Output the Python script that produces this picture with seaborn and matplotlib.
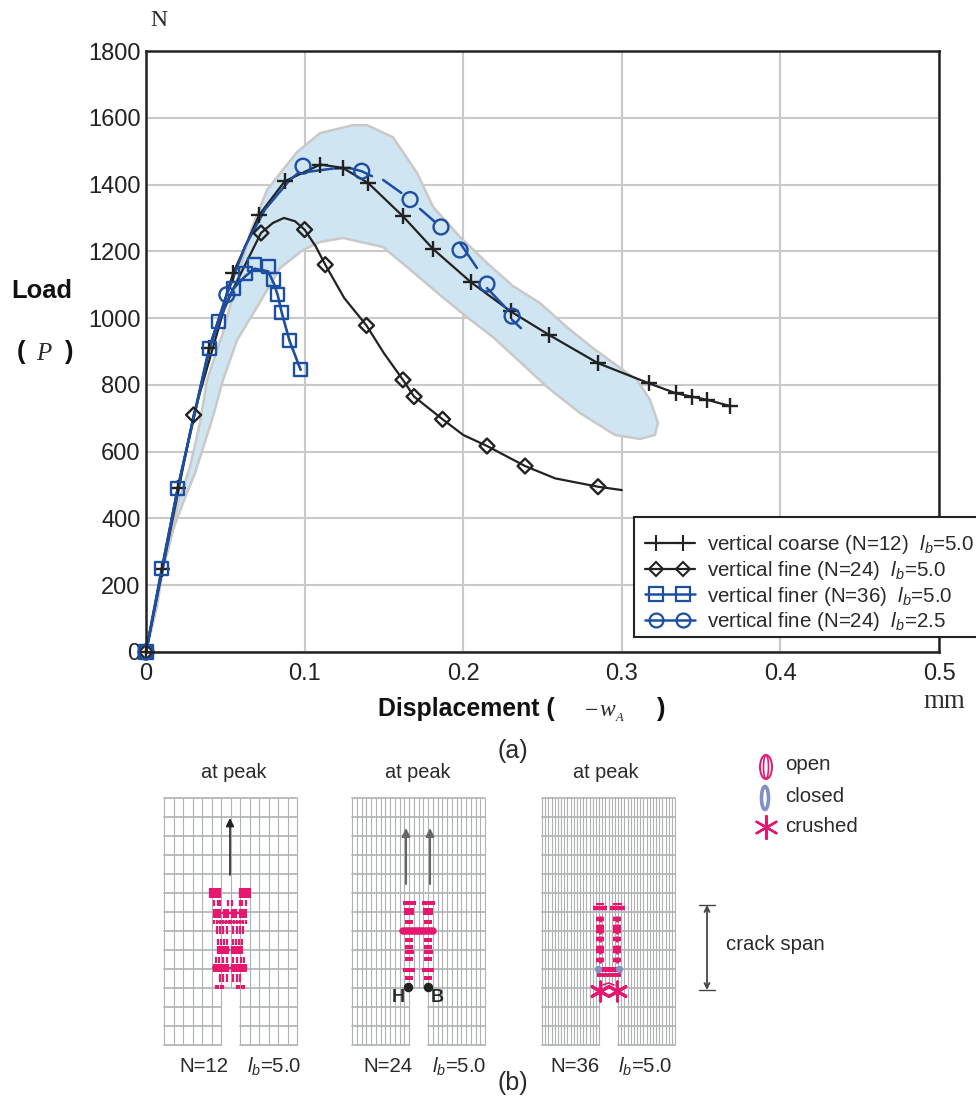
import numpy as np
import pandas as pd
import matplotlib
matplotlib.use("Agg")
import matplotlib.pyplot as plt
import seaborn as sns
from matplotlib.lines import Line2D
from matplotlib.legend_handler import HandlerLine2DCompound
from matplotlib.patches import Ellipse, Rectangle

# ---------- data ----------
coarse_x = [0, .01, .02, .04, .055, .0715, .0875, .11, .124, .14, .162, .181, .205, .23, .254, .285, .317, .334, .344, .354, .368]
coarse_y = [0, 250, 490, 910, 1135, 1310, 1410, 1460, 1450, 1405, 1305, 1207, 1107, 1020, 950, 865, 805, 775, 765, 755, 737]

fine_line_x = [0, .03, .05, .0725, .08, .087, .094, .1, .107, .113, .125, .139, .15, .162, .169, .187, .2, .215, .239, .258, .285, .3]
fine_line_y = [0, 710, 1040, 1255, 1285, 1300, 1290, 1265, 1215, 1160, 1060, 978, 895, 815, 765, 697, 650, 617, 557, 520, 495, 485]
fine_x = [0, .03, .0725, .1, .113, .139, .162, .169, .187, .215, .239, .285]
fine_y = [0, 710, 1255, 1265, 1160, 978, 815, 765, 697, 617, 557, 495]

finer_x = [0, .01, .02, .04, .046, .055, .0625, .0685, .077, .0805, .083, .0855, .0905, .0975]
finer_y = [0, 250, 490, 908, 990, 1088, 1135, 1162, 1155, 1115, 1070, 1018, 932, 845]
finer_line_y = [0, 250, 490, 908, 990, 1088, 1125, 1148, 1140, 1105, 1070, 1018, 932, 845]

short_x = [0, .051, .099, .136, .1665, .186, .198, .215, .2308]
short_y = [0, 1070, 1455, 1440, 1355, 1273, 1204, 1102, 1006]
short_segments = [
    ([0, .01, .02, .04, .051, .0625, .075, .09, .096], [0, 240, 490, 915, 1070, 1215, 1325, 1410, 1435]),
    ([.102, .118, .128, .136, .1425], [1438, 1448, 1450, 1440, 1425]),
    ([.1495, .161], [1414, 1375]),
    ([.1728, .1822], [1327, 1288]),
    ([.198, .2087], [1225, 1150]),
    ([.215, .2264], [1090, 1033]),
    ([.2308, .2364], [995, 970]),
]

band_x = [0, .0088, .0151, .0202, .0277, .034, .0385, .048, .0656, .0763, .0952, .1097, .1305, .1393, .1557, .1709,
          .181, .198, .215, .2314, .2484, .2654, .2818, .2989, .3096, .3178, .3228, .3209, .3115, .2957, .2736, .2528,
          .2358, .2188, .2024, .1854, .1646, .1494, .1242, .1097, .099, .0845, .07, .0574, .0486, .0416, .0309, .0233,
          .017, .012, .0069, 0]
band_y = [0, 216, 326, 446, 554, 686, 815, 949, 1255, 1384, 1497, 1554, 1578, 1578, 1542, 1435,
          1333, 1243, 1165, 1096, 1045, 973, 910, 851, 815, 755, 686, 650, 638, 650, 716, 794,
          869, 943, 1003, 1069, 1153, 1213, 1240, 1228, 1204, 1150, 1033, 934, 815, 695, 536, 446,
          365, 285, 135, 0]

legend_labels = ["vertical coarse (N=12)  $l_b$=5.0", "vertical fine (N=24)  $l_b$=5.0",
                 "vertical finer (N=36)  $l_b$=5.0", "vertical fine (N=24)  $l_b$=2.5"]
x_ticks = [0, .1, .2, .3, .4, .5]
x_tick_labels = ["0", "0.1", "0.2", "0.3", "0.4", "0.5"]
y_ticks = list(range(0, 1801, 200))

# schematic meshes: left, columns, notch columns (start, end)
mesh_left = [164, 352, 542]
mesh_cols = [14, 28, 42]
mesh_notch = [(6, 8), (12, 16), (18, 24)]
mesh_titles = ["N=12", "N=24", "N=36"]
mesh_title_x = [204, 387.5, 574.5]
mesh_lb_x = [274, 459, 645]
mesh_peak_x = [234, 418, 606]

# crack marks, coarse mesh: row y, tick length in pixels, offsets from the mesh centre
m1_rows = [893, 903, 913, 922, 930, 942, 950, 960, 968, 978, 987]
m1_lens = [10, 6, 9, 4, 8, 6, 8, 6, 8, 8, 5]
m1_offs = [[10, 12, 14, 16, 18, 20], [2, 10, 12, 16], [2, 4, 6, 10, 12, 14, 16], [1, 4, 7, 10, 13, 16], [3, 7, 10, 13],
           [3, 6, 9, 12], [2, 4, 6, 8, 10, 12], [3, 7, 11, 14], [2, 4, 6, 8, 10, 12, 14, 16], [3, 7, 10], [7, 9, 12, 14]]
# N=24: row y and dash length in pixels
m2_rows = [903, 910, 913, 922, 940, 947, 952, 959, 970, 978, 985]
m2_lens = [13, 10, 10, 8, 8, 8, 9, 8, 12, 8, 5]
m3_rows = [919, 927, 931, 939, 948, 951, 960]

PINK = "#e6176f"
BLACK = "#222222"
BLUE = "#1c4ea1"
GREY = "#c9c9c9"
MESH = "#aeb2b2"

sns.set_theme(style="white")
plt.rcParams["font.family"] = ["Liberation Sans", "DejaVu Sans"]
plt.rcParams["mathtext.fontset"] = "custom"
plt.rcParams["mathtext.rm"] = "Liberation Sans"
plt.rcParams["mathtext.it"] = "Liberation Sans:italic"
plt.rcParams["mathtext.default"] = "it"

W, H = 976, 1096
fig = plt.figure(figsize=(W / 100, H / 100), dpi=100, facecolor="white")
ax = fig.add_axes([146 / W, 1 - 652 / H, (939 - 146) / W, (652 - 51) / H])


def line(x, y, color, lw=1.6):
    df = pd.DataFrame({"x": x, "y": y})
    sns.lineplot(data=df, x="x", y="y", ax=ax, color=color, lw=lw, estimator=None, sort=False, zorder=4)


def marks(x, y, marker, size, color):
    df = pd.DataFrame({"x": x, "y": y})
    if marker == "+":
        sns.scatterplot(data=df, x="x", y="y", ax=ax, marker="+", s=size, color=color, linewidth=1.7, zorder=5, clip_on=False)
    else:
        sns.scatterplot(data=df, x="x", y="y", ax=ax, marker=marker, s=size, facecolor="none", edgecolor=color,
                        linewidth=1.7, zorder=5, clip_on=False)


ax.fill(band_x, band_y, facecolor="#cfe5f2", edgecolor=GREY, lw=1.8, zorder=2)
line(coarse_x, coarse_y, BLACK)
marks(coarse_x, coarse_y, "+", 125, BLACK)
line(fine_line_x, fine_line_y, BLACK)
marks(fine_x, fine_y, "D", 58, BLACK)
line(finer_x, finer_line_y, BLUE, 1.9)
marks(finer_x, finer_y, "s", 88, BLUE)
for sx, sy in short_segments:
    line(sx, sy, BLUE, 1.8)
marks(short_x, short_y, "o", 115, BLUE)

ax.set_xlim(0, .5)
ax.set_ylim(0, 1800)
ax.set_xticks(x_ticks, x_tick_labels)
ax.set_yticks(y_ticks)
ax.set_xlabel("")
ax.set_ylabel("")
ax.grid(True, color=GREY, lw=1.5, zorder=1)
ax.set_axisbelow(True)
ax.tick_params(axis="x", length=0, labelsize=17, labelcolor=BLACK, pad=8)
ax.tick_params(axis="y", length=0, labelsize=17, labelcolor=BLACK, pad=4)
for s in ax.spines.values():
    s.set_color(BLACK)
    s.set_linewidth(1.8)
    s.set_zorder(6)


class EndToEnd(HandlerLine2DCompound):
    def get_xdata(self, legend, xdescent, ydescent, width, height, fontsize):
        return ([-xdescent, -xdescent + width],
                [-xdescent + width * .21, -xdescent + width * .76])


handles = [
    Line2D([], [], color=BLACK, lw=1.6, marker="+", ms=11, mew=1.5),
    Line2D([], [], color=BLACK, lw=1.6, marker="D", ms=7, mew=1.5, mfc="none"),
    Line2D([], [], color=BLUE, lw=1.8, marker="s", ms=9.4, mew=1.6, mfc="none"),
    Line2D([], [], color=BLUE, lw=1.8, marker="o", ms=10, mew=1.6, mfc="none"),
]
fig.add_artist(Rectangle((634 / W, 1 - 637 / H), 360 / W, 120 / H, transform=fig.transFigure,
                         facecolor="white", edgecolor=BLACK, lw=1.5, zorder=9))
leg = ax.legend(handles, legend_labels, loc="upper left", bbox_to_anchor=(634 / W, 1 - 522 / H),
                bbox_transform=fig.transFigure, borderaxespad=0, fontsize=14.8, frameon=False,
                handlelength=2.4, handletextpad=.6, labelspacing=.13, borderpad=.55, labelcolor="#2a2a2a",
                numpoints=2, handler_map={Line2D: EndToEnd()})
leg.remove()
fig.add_artist(leg)
leg.set_figure(fig)
leg.zorder = 10

# ---------- overlay in pixel coordinates ----------
ov = fig.add_axes([0, 0, 1, 1], facecolor="none")
ov.set_xlim(0, W)
ov.set_ylim(H, 0)
ov.axis("off")
TXT = "#2a2a2a"
LAB = 14.7


def text(x, y, s, size=LAB, ha="center", **kw):
    ov.text(x, y, s, fontsize=size, ha=ha, va="center", color=kw.pop("color", TXT), **kw)


SERIF = "Liberation Serif"
text(159, 20, "N", 17, family=SERIF)
text(944, 702, "mm", 19.4, family=SERIF)
text(42, 291, "Load", 18.4, weight="bold", color="#111111")
text(21, 352, "(", 18.4, weight="bold", color="#111111")
text(44, 354, "P", 18, family=SERIF, style="italic")
text(69, 352, ")", 18.4, weight="bold", color="#111111")
text(378, 709, "Displacement (", 17.9, ha="left", weight="bold", color="#111111")
text(585, 711, "\u2212", 17, ha="left", family=SERIF)
text(599, 711, "w", 17, ha="left", family=SERIF, style="italic")
text(616, 718, "A", 9, ha="left", family=SERIF, style="italic")
text(661, 709, ")", 18.4, weight="bold", color="#111111")
text(513, 751, "(a)", 18)
text(513, 1083, "(b)", 18)

TOP, ROW, ROWS = 798, 19, 13
for i, (left, cols, notch, title) in enumerate(zip(mesh_left, mesh_cols, mesh_notch, mesh_titles)):
    cw = 133 / cols
    bottom = TOP + ROW * ROWS
    notch_top = TOP + ROW * 10
    for c in range(cols + 1):
        xx = left + c * cw
        end = notch_top if notch[0] < c < notch[1] else bottom
        ov.plot([xx, xx], [TOP, end], color=MESH, lw=.8, solid_capstyle="butt")
    nl, nr = left + notch[0] * cw, left + notch[1] * cw
    for r in range(ROWS + 1):
        yy = TOP + r * ROW
        if r > 10:
            ov.plot([left, nl], [yy, yy], color=MESH, lw=1.2)
            ov.plot([nr, left + 133], [yy, yy], color=MESH, lw=1.2)
        else:
            ov.plot([left, left + 133], [yy, yy], color=MESH, lw=1.2)
    text(mesh_peak_x[i], 773, "at peak", 14.3)
    text(mesh_title_x[i], 1067, title)
    text(mesh_lb_x[i], 1067, "$l_b$=5.0")

# coarse mesh cracks
for y, ln, offs in zip(m1_rows, m1_lens, m1_offs):
    xs = [230 - o for o in offs] + [230 + o for o in offs]
    ov.scatter(xs, [y] * len(xs), marker="|", s=(ln * .72) ** 2, color=PINK, linewidths=1.6, zorder=3)
for y, half in [(913, 16), (950, 13), (968, 18), (922, 14)]:
    ov.plot([230 - half, 230 + half], [y, y], color=PINK, lw=1.7, ls=(0, (2.5, .6)), zorder=3)

# N=24 cracks
for y, ln in zip(m2_rows, m2_lens):
    ov.scatter([408.5, 428], [y, y], marker="_", s=(ln * .72) ** 2, color=PINK, linewidths=2.9, zorder=3)
ov.plot([403, 433], [931, 931], color=PINK, lw=5.4, solid_capstyle="round", zorder=3)
ov.scatter([408, 427.5], [987, 987], s=34, color=BLACK, zorder=5)
text(398, 998, "H", 13, weight="bold")
text(437, 998, "B", 13, weight="bold")

# N=36 cracks
xs3 = [600, 617] * len(m3_rows)
ys3 = np.repeat(m3_rows, 2)
ov.scatter(xs3, ys3, marker="_", s=27, color=PINK, linewidths=3.2, zorder=3)
ov.scatter(xs3, ys3, marker="|", s=14, color=PINK, linewidths=2.0, zorder=3)
for x0, x1 in [(593, 607), (610, 625)]:
    ov.plot([x0, x1], [908, 908], color=PINK, lw=3.2, solid_capstyle="butt", zorder=3)
    ov.plot([x0 + 3, x1 - 3], [904, 904], color=PINK, lw=1.5, solid_capstyle="butt", zorder=3)
ov.plot([597, 621], [975, 975], color=PINK, lw=2.8, solid_capstyle="butt", zorder=3)
ov.plot([601, 617], [969, 969], color=PINK, lw=3.6, solid_capstyle="butt", zorder=3)
ov.scatter([598, 619], [969, 969], s=18, color="#8091c9", zorder=4)
ov.scatter([600, 617], [991, 991], marker=(6, 2, 0), s=190, color=PINK, linewidths=2.2, zorder=3)
ov.plot([603, 608.5, 614], [985, 983, 985], color=PINK, lw=1.2, zorder=3)

# arrows
for x0, y0, y1, col, lw in [(230, 875, 818, BLACK, 1.2), (406, 884, 828, "#666666", 1.5), (430, 884, 828, "#666666", 1.5)]:
    ov.annotate("", xy=(x0, y1), xytext=(x0, y0),
                arrowprops=dict(arrowstyle="-|>", color=col, lw=lw, shrinkA=0, shrinkB=0, mutation_scale=12))
ov.annotate("", xy=(707, 905), xytext=(707, 990),
            arrowprops=dict(arrowstyle="<->", color="#444444", lw=1.3, shrinkA=0, shrinkB=0, mutation_scale=9))
ov.plot([699, 715], [905, 905], color="#444444", lw=1)
ov.plot([699, 715], [990, 990], color="#444444", lw=1)
text(775, 945, "crack span")

# key
ov.add_patch(Ellipse((766, 767), 12, 24, fill=False, ec=PINK, lw=1.4))
ov.add_patch(Ellipse((766, 767), 5, 24, fill=False, ec=PINK, lw=1.2))
ov.add_patch(Ellipse((765, 798), 7, 23, fill=False, ec="#8091c9", lw=2.6))
ov.scatter([766], [827], marker=(6, 2, 0), s=270, color=PINK, linewidths=1.7)
text(785, 765, "open", ha="left")
text(785, 797, "closed", ha="left")
text(785, 827, "crushed", ha="left")

fig.savefig("out.png", dpi=100, facecolor="white")
